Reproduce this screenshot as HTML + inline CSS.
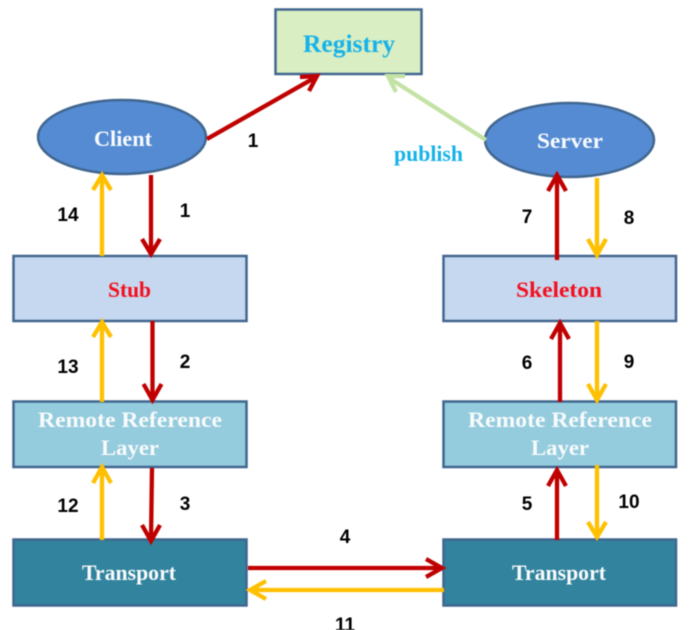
<!DOCTYPE html>
<html>
<head>
<meta charset="utf-8">
<style>
html,body{margin:0;padding:0;background:#fff;width:694px;height:630px;overflow:hidden}
svg{display:block;filter:blur(0.45px)}
.n{font-family:"Liberation Serif",serif;font-weight:bold;font-size:22.500px}
.l{font-family:"Liberation Sans",sans-serif;font-weight:bold;font-size:19px;text-anchor:middle;fill:#000}
.b{stroke:#41668f;stroke-width:2.5}
.r{stroke:#c00000;stroke-width:4.300;fill:none}
.y{stroke:#ffc000;stroke-width:4.300;fill:none}
.g{stroke:#c3e2a4;stroke-width:4.300;fill:none}
</style>
</head>
<body>
<svg width="694" height="630" viewBox="0 0 694 630" xmlns="http://www.w3.org/2000/svg">
<rect width="694" height="630" fill="#fff"/>

<!-- Nodes -->
<rect class="b" x="275.500" y="9.500" width="146" height="64.500" fill="#d9eec2"/>
<ellipse class="b" cx="122" cy="137" rx="84" ry="37" fill="#548bd3"/>
<ellipse class="b" cx="569.500" cy="140" rx="84.500" ry="37" fill="#548bd3"/>
<rect class="b" x="13.500" y="256" width="233" height="65" fill="#c6d8ef"/>
<rect class="b" x="443.500" y="256" width="232.500" height="65" fill="#c6d8ef"/>
<rect class="b" x="13.500" y="401.500" width="233" height="65.500" fill="#94cbdd"/>
<rect class="b" x="443.500" y="401.500" width="232.500" height="65.500" fill="#94cbdd"/>
<rect class="b" x="13.500" y="539.500" width="233" height="66" fill="#31839e"/>
<rect class="b" x="443.500" y="539.500" width="232.500" height="66" fill="#31839e"/>

<!-- Red connectors -->
<path class="r" d="M207 139 L316 77 M300 77 L317 76 L309 91"/>
<path class="r" d="M151 175 V252 M142 239 L151 254 L160 239"/>
<path class="r" d="M152.500 321 V399 M143.500 384 L152.500 400 L161.500 384"/>
<path class="r" d="M152 468 L151 540 M142 525 L151 541 L160 525"/>
<path class="r" d="M248 568 H441 M426 559 L442 568 L426 577"/>
<path class="r" d="M557 260 V176 M548 191 L557 175 L566 191"/>
<path class="r" d="M560 402 V323 M551 339 L560 323 L569 339"/>
<path class="r" d="M557 540 V471 M548 486 L557 470 L566 486"/>

<!-- Yellow connectors -->
<path class="y" d="M102 256 V176 M93 190 L102 175 L111 190"/>
<path class="y" d="M102 402 V323 M93 337 L102 322 L111 337"/>
<path class="y" d="M102 540 V468 M93 483 L102 467 L111 483"/>
<path class="y" d="M444 590 H251 M266 581 L250 590 L266 599"/>
<path class="y" d="M597 178 V254 M588 239 L597 255 L606 239"/>
<path class="y" d="M597 321 V399 M588 384 L597 400 L606 384"/>
<path class="y" d="M597 465 V536 M588 522 L597 537 L606 522"/>

<!-- Green connector -->
<path class="g" d="M486 140 L389 78 M405 76 L388 76 L396 92"/>

<!-- Node labels -->
<text class="n" x="303" y="52" fill="#16b2ea" style="font-size:25px" textLength="92" lengthAdjust="spacingAndGlyphs">Registry</text>
<text class="n" x="94" y="146" fill="#f8fbfd" textLength="58" lengthAdjust="spacingAndGlyphs">Client</text>
<text class="n" x="537" y="148" fill="#f8fbfd" textLength="66" lengthAdjust="spacingAndGlyphs">Server</text>
<text class="n" x="108" y="297" fill="#f40f1e" textLength="43" lengthAdjust="spacingAndGlyphs">Stub</text>
<text class="n" x="516" y="297" fill="#f40f1e" textLength="86" lengthAdjust="spacingAndGlyphs">Skeleton</text>
<text class="n" x="38" y="427" fill="#f8fbfc" textLength="184" lengthAdjust="spacingAndGlyphs">Remote Reference</text>
<text class="n" x="101" y="455" fill="#f8fbfc" textLength="58" lengthAdjust="spacingAndGlyphs">Layer</text>
<text class="n" x="468" y="427" fill="#f8fbfc" textLength="184" lengthAdjust="spacingAndGlyphs">Remote Reference</text>
<text class="n" x="531" y="455" fill="#f8fbfc" textLength="58" lengthAdjust="spacingAndGlyphs">Layer</text>
<text class="n" x="82" y="580" fill="#f8fbfc" textLength="94" lengthAdjust="spacingAndGlyphs">Transport</text>
<text class="n" x="512" y="580" fill="#f8fbfc" textLength="94" lengthAdjust="spacingAndGlyphs">Transport</text>
<text class="n" x="394" y="161" fill="#16b2ea" textLength="69" lengthAdjust="spacingAndGlyphs">publish</text>

<!-- Number labels -->
<text class="l" x="253" y="147">1</text>
<text class="l" x="185" y="217">1</text>
<text class="l" x="68" y="221">14</text>
<text class="l" x="68" y="373">13</text>
<text class="l" x="185" y="368">2</text>
<text class="l" x="68" y="512">12</text>
<text class="l" x="185" y="510">3</text>
<text class="l" x="345" y="543">4</text>
<text class="l" x="345" y="631">11</text>
<text class="l" x="527" y="223">7</text>
<text class="l" x="629" y="224">8</text>
<text class="l" x="527" y="369">6</text>
<text class="l" x="629" y="368">9</text>
<text class="l" x="527" y="510">5</text>
<text class="l" x="629" y="508">10</text>
</svg>
</body>
</html>
